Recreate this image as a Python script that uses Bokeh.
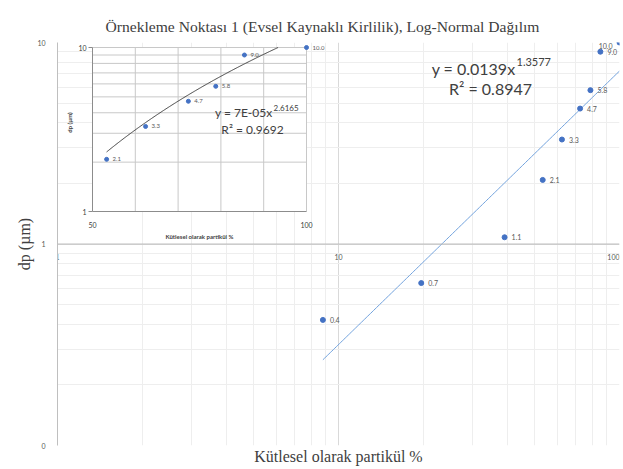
import numpy as np
from bokeh.plotting import figure
from bokeh.models import (ColumnDataSource, FixedTicker, Range1d, LinearScale, LogScale,
                          Span, Title)
from bokeh.core.properties import value
from bokeh.embed import file_html
from bokeh.resources import INLINE

# ---------------- data ----------------
particle_pct = [8.8, 19.7, 39.0, 53.3, 62.4, 72.4, 78.8, 85.5, 100.0]
dp_um = [0.42, 0.64, 1.08, 2.08, 3.3, 4.7, 5.8, 9.0, 10.0]
point_labels = ["0.4", "0.7", "1.1", "2.1", "3.3", "4.7", "5.8", "9.0", "10.0"]

main_fit_coef = 0.0139
main_fit_exp = 1.3577
main_fit_text = "y = 0.0139x"
main_fit_exp_text = "1.3577"
main_r2_text = "R² = 0.8947"

inset_fit_coef = 7e-05
inset_fit_exp = 2.6165
inset_fit_text = "y = 7E-05x"
inset_fit_exp_text = "2.6165"
inset_r2_text = "R² = 0.9692"

main_x_ticks = [1, 10, 100]
main_x_tick_labels = ["1", "10", "100"]
main_y_ticks = [0.1, 1, 10]
main_y_tick_labels = ["0", "1", "10"]

inset_x_ticks = [50, 100]
inset_x_tick_labels = ["50", "100"]
inset_x_grid = [60, 70, 80, 90, 100]
inset_y_ticks = [1, 10]
inset_y_tick_labels = ["1", "10"]
inset_y_grid = [2, 3, 4, 5, 6, 7, 8, 9, 10]
inset_x_min, inset_x_max = 50, 100
inset_y_min, inset_y_max = 1, 10

title_text = "Örnekleme Noktası 1 (Evsel Kaynaklı Kirlilik), Log-Normal Dağılım"
x_title = "Kütlesel olarak partikül %"
y_title = "dp (µm)"

# ---------------- geometry (pixels) ----------------
W, H = 622, 468
FL, FR, FT, FB = 57, 619, 42, 445          # main frame
IL, IR, IT, IB = 92, 306, 47, 211          # inset plot area

k_ix = (IR - IL) / (inset_x_max - inset_x_min)
d_iy = (IB - IT) / np.log10(inset_y_max / inset_y_min)
ix_start = inset_x_min - (IL - FL) / k_ix
ix_end = inset_x_max + (FR - IR) / k_ix
iy_start = inset_y_min * 10 ** (-(FB - IB) / d_iy)
iy_end = inset_y_max * 10 ** ((IT - FT) / d_iy)

def mx(px):
    return 10 ** ((px - FL) / (FR - FL) * 2)

def my(py):
    return 10 ** (-1 + (FB - py) / (FB - FT) * 2)

def ix(px):
    return inset_x_min + (px - IL) / k_ix

def iy(py):
    return inset_y_min * 10 ** ((IB - py) / d_iy)

SERIF = "Liberation Serif"
SANS = "Lato"
DARK = "#404040"
GRAYTXT = "#595959"
BLUE = "#4472c4"

p = figure(width=W, height=H, x_axis_type="log", y_axis_type="log",
           x_range=Range1d(1, 100), y_range=Range1d(0.1, 10),
           output_backend="svg", toolbar_location=None,
           min_border_left=FL, min_border_right=W - FR,
           min_border_top=FT, min_border_bottom=H - FB,
           extra_x_ranges={"ix": Range1d(ix_start, ix_end)},
           extra_y_ranges={"iy": Range1d(iy_start, iy_end)},
           extra_x_scales={"ix": LinearScale()},
           extra_y_scales={"iy": LogScale()})
p.outline_line_color = None
p.background_fill_color = "white"
p.border_fill_color = "white"

# title
p.title.text = title_text
p.title.text_font = SERIF
p.title.text_font_size = "15.6px"
p.title.text_font_style = "normal"
p.title.text_color = DARK
p.title.align = "left"
p.title.offset = 48
p.title.standoff = 15

# grids
minor_x = [m * 10 ** e for e in (0, 1) for m in range(2, 10)]
minor_y = [m * 10 ** e for e in (-1, 0) for m in range(2, 10)]
p.xgrid.ticker = FixedTicker(ticks=main_x_ticks, minor_ticks=minor_x)
p.ygrid.ticker = FixedTicker(ticks=main_y_ticks, minor_ticks=minor_y)
for g in (p.xgrid[0], p.ygrid[0]):
    g.grid_line_color = "#d9d9d9"
    g.minor_grid_line_color = "#eeeeee"

# x axis hidden; its title drawn as a Title below
p.xaxis.visible = False
p.add_layout(Title(text=x_title, align="center", text_font=SERIF, text_font_size="16px",
                   text_font_style="normal", text_color=DARK, standoff=0), "below")

# y axis
ya = p.yaxis[0]
ya.ticker = FixedTicker(ticks=main_y_ticks)
ya.major_label_overrides = {float(t): l for t, l in zip(main_y_ticks, main_y_tick_labels)}
ya.major_label_text_font = SANS
ya.major_label_text_font_size = "7px"
ya.major_label_text_color = GRAYTXT
ya.major_label_standoff = 6
ya.major_tick_line_color = None
ya.minor_tick_line_color = None
ya.axis_line_color = "#bfbfbf"
ya.axis_label = y_title
ya.axis_label_text_font = SERIF
ya.axis_label_text_font_size = "16px"
ya.axis_label_text_font_style = "normal"
ya.axis_label_text_color = DARK
ya.axis_label_standoff = 1

# horizontal axis line at y = 1
p.add_layout(Span(location=1, dimension="width", line_color="#bfbfbf", line_width=1))

# main x tick labels along y=1
x_tick_align = ["right" if t == main_x_ticks[-1] else "center" for t in main_x_ticks]
p.text(x=main_x_ticks, y=[1] * len(main_x_ticks), text=main_x_tick_labels,
       text_font=value(SANS), text_font_size="7px", text_color=GRAYTXT,
       text_align=x_tick_align, text_baseline="middle", y_offset=13)

# main trendline
xs_fit = np.geomspace(min(particle_pct), max(particle_pct), 200)
p.line(xs_fit, main_fit_coef * xs_fit ** main_fit_exp, line_color="#6fa0dc", line_width=1)

# main points
at_edge = [x >= 100 for x in particle_pct]
src = ColumnDataSource(dict(
    x=particle_pct, y=dp_um, lab=point_labels,
    align=["right" if e else "left" for e in at_edge],
    base=["top" if e else "middle" for e in at_edge],
    xo=[-7 if e else 7 for e in at_edge],
    yo=[0 for e in at_edge],
))
p.scatter("x", "y", source=src, size=5, fill_color=BLUE, line_color=BLUE)
p.text("x", "y", text="lab", source=src, text_font=value(SANS), text_font_size="7px",
       text_color=GRAYTXT, text_align="align", text_baseline="base",
       x_offset="xo", y_offset="yo")

# main equation
p.text(x=[mx(515)], y=[my(68)], text=[main_fit_text], text_font=value(SANS),
       text_font_size="16px", text_color=DARK, text_align="right", text_baseline="middle")
p.text(x=[mx(516)], y=[my(61)], text=[main_fit_exp_text], text_font=value(SANS),
       text_font_size="11px", text_color=DARK, text_align="left", text_baseline="middle")
p.text(x=[mx(490)], y=[my(88)], text=[main_r2_text], text_font=value(SANS),
       text_font_size="16px", text_color=DARK, text_align="center", text_baseline="middle")

# ---------------- inset ----------------
R = dict(x_range_name="ix", y_range_name="iy")
p.quad(left=[inset_x_min], right=[inset_x_max], bottom=[inset_y_min], top=[inset_y_max],
       fill_color="white", line_color=None, **R)
# inset grid
p.segment(x0=inset_x_grid, y0=[inset_y_min] * len(inset_x_grid),
          x1=inset_x_grid, y1=[inset_y_max] * len(inset_x_grid),
          line_color="#c8c8c8", line_width=1, **R)
p.segment(x0=[inset_x_min] * len(inset_y_grid), y0=inset_y_grid,
          x1=[inset_x_max] * len(inset_y_grid), y1=inset_y_grid,
          line_color="#c8c8c8", line_width=1, **R)
# inset axes
p.segment(x0=[inset_x_min, inset_x_min], y0=[inset_y_min, inset_y_min],
          x1=[inset_x_min, inset_x_max], y1=[inset_y_max, inset_y_min],
          line_color="#8c8c8c", line_width=1, **R)
p.segment(x0=[ix(IL - 4)] * len(inset_y_ticks), y0=inset_y_ticks,
          x1=[inset_x_min] * len(inset_y_ticks), y1=inset_y_ticks,
          line_color="#8c8c8c", line_width=1, **R)
# inset tick labels
p.text(x=[inset_x_min] * len(inset_y_ticks), y=inset_y_ticks, text=inset_y_tick_labels,
       text_font=value(SANS), text_font_size="7px", text_color=DARK,
       text_align="right", text_baseline="middle", x_offset=-6, **R)
p.text(x=inset_x_ticks, y=[inset_y_min] * len(inset_x_ticks), text=inset_x_tick_labels,
       text_font=value(SANS), text_font_size="7px", text_color=DARK,
       text_align="center", text_baseline="middle", y_offset=13, **R)
# inset axis titles
p.text(x=[ix(69)], y=[iy(122)], text=[y_title], angle=np.pi / 2,
       text_font=value(SANS), text_font_size="6px", text_font_style="bold", text_color=DARK,
       text_align="center", text_baseline="middle", **R)
p.text(x=[ix(199)], y=[iy(236)], text=[x_title],
       text_font=value(SANS), text_font_size="6px", text_font_style="bold", text_color=DARK,
       text_align="center", text_baseline="middle", **R)

# inset trendline (clipped at the inset's top)
in_x = [v for v in particle_pct if v >= inset_x_min]
in_y = [d for v, d in zip(particle_pct, dp_um) if v >= inset_x_min]
in_lab = [l for v, l in zip(particle_pct, point_labels) if v >= inset_x_min]
x_top = min(inset_x_max, (inset_y_max / inset_fit_coef) ** (1 / inset_fit_exp))
xi_fit = np.linspace(min(in_x), x_top, 200)
p.line(xi_fit, inset_fit_coef * xi_fit ** inset_fit_exp, line_color="#404040", line_width=1, **R)

isrc = ColumnDataSource(dict(x=in_x, y=in_y, lab=in_lab))
p.scatter("x", "y", source=isrc, size=4, fill_color=BLUE, line_color=BLUE, **R)
p.text("x", "y", text="lab", source=isrc, text_font=value(SANS), text_font_size="6px",
       text_color=GRAYTXT, text_baseline="middle", x_offset=6, **R)

# inset equation
p.text(x=[ix(272)], y=[iy(112)], text=[inset_fit_text], text_font=value(SANS),
       text_font_size="12px", text_color=DARK, text_align="right", text_baseline="middle", **R)
p.text(x=[ix(273)], y=[iy(107)], text=[inset_fit_exp_text], text_font=value(SANS),
       text_font_size="8px", text_color=DARK, text_align="left", text_baseline="middle", **R)
p.text(x=[ix(252)], y=[iy(129)], text=[inset_r2_text], text_font=value(SANS),
       text_font_size="12px", text_color=DARK, text_align="center", text_baseline="middle", **R)

open("out.html", "w").write(file_html(p, INLINE))
